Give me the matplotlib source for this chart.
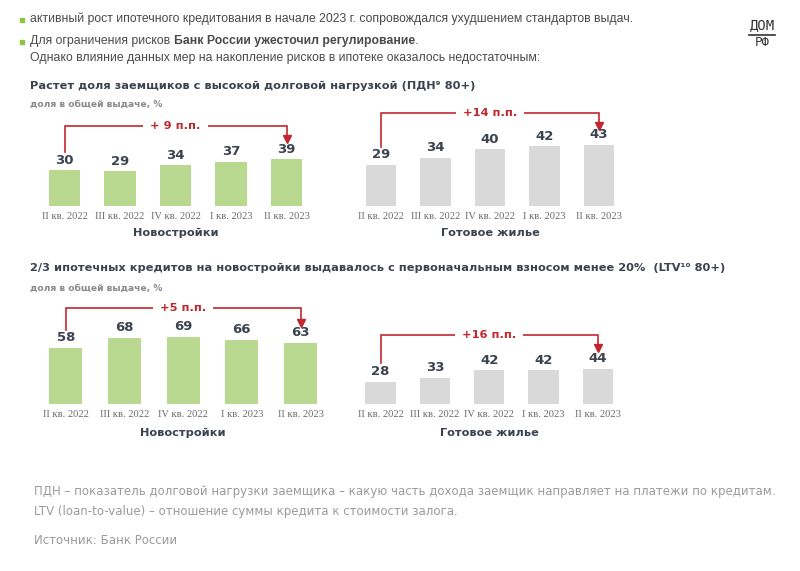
import matplotlib.pyplot as plt

W, H = 800, 571

quarters = ["II кв. 2022", "III кв. 2022", "IV кв. 2022", "I кв. 2023", "II кв. 2023"]

pdn_new = [30, 29, 34, 37, 39]
pdn_ready = [29, 34, 40, 42, 43]
ltv_new = [58, 68, 69, 66, 63]
ltv_ready = [28, 33, 42, 42, 44]

pdn_new_delta = "+ 9 п.п."
pdn_ready_delta = "+14 п.п."
ltv_new_delta = "+5 п.п."
ltv_ready_delta = "+16 п.п."

GREEN = "#b8d98f"
GREY = "#d9d9d9"
RED = "#c1272d"
DARK = "#3b4250"
TICK = "#6b6b6b"

fig = plt.figure(figsize=(W / 100, H / 100), dpi=100)
fig.patch.set_facecolor("white")


def fx(px):
    return px / W


def fy(py):
    return 1 - py / H


def make_ax(left, right, top, bottom):
    return fig.add_axes([fx(left), fy(bottom), fx(right - left), (bottom - top) / H])


def draw_panel(ax, values, color, ymax, caption, delta, y_line, y_start, y_tip, text_x):
    x = list(range(len(values)))
    ax.bar(x, values, width=0.56, color=color)
    ax.set_xlim(-0.5, len(values) - 0.5)
    ax.set_ylim(0, ymax)
    for s in ax.spines.values():
        s.set_visible(False)
    ax.set_yticks([])
    ax.set_xticks(x)
    ax.set_xticklabels(quarters, family="Liberation Serif", fontsize=7.6, color=TICK)
    ax.tick_params(axis="x", length=0, pad=4)
    for xi, v in zip(x, values):
        ax.annotate(str(v), (xi, v), xytext=(0, 2.5), textcoords="offset points",
                    ha="center", va="bottom", fontsize=9.5, weight="bold", color=DARK)
    ax.text(0.5, -0.28, caption, transform=ax.transAxes, ha="center", va="center",
            fontsize=8.2, weight="bold", color=DARK)

    # bracket: pixel rows -> data units
    bbox = ax.get_position()
    ax_top = (1 - bbox.y1) * H
    ax_h = bbox.height * H

    def to_data(py):
        return (ax_top + ax_h - py) / ax_h * ymax

    yl = to_data(y_line)
    last = len(values) - 1
    ax.plot([0, 0, last, last], [to_data(y_start), yl, yl, to_data(y_tip)],
            color=RED, lw=1.2, clip_on=False, solid_joinstyle="miter")
    ax.plot([last], [to_data(y_tip)], marker="v", color=RED,
            markersize=5.5, clip_on=False)
    ax.text(text_x, yl, delta, ha="center", va="center", fontsize=8.2, weight="bold",
            color=RED, clip_on=False,
            bbox=dict(facecolor="white", edgecolor="none", pad=5))


ax1 = make_ax(36.75, 314.25, 110, 206)
draw_panel(ax1, pdn_new, GREEN, 80, "Новостройки", pdn_new_delta, 126, 152, 139, 2.0)

ax2 = make_ax(353.75, 626.25, 110, 206)
draw_panel(ax2, pdn_ready, GREY, 67.6, "Готовое жилье", pdn_ready_delta, 113, 147, 126, 2.0)

ax3 = make_ax(36.4, 329.9, 300, 404)
draw_panel(ax3, ltv_new, GREEN, 107, "Новостройки", ltv_new_delta, 308, 330, 323, 2.0)

ax4 = make_ax(353.5, 625.0, 300, 404)
draw_panel(ax4, ltv_ready, GREY, 130, "Готовое жилье", ltv_ready_delta, 335, 363, 348, 2.0)

# header bullets
renderer = fig.canvas.get_renderer()


def rich(px, py, parts, **kw):
    x = fx(px)
    for s, weight in parts:
        t = fig.text(x, fy(py), s, weight=weight, va="center", **kw)
        x += t.get_window_extent(renderer).width / W


head_kw = dict(fontsize=8.8, color="#4a4a4a", family="Liberation Sans")
for by in (22, 44):
    fig.patches.append(plt.Rectangle((fx(20), fy(by)), fx(4), 4 / H, color="#8cc63f",
                                     transform=fig.transFigure, figure=fig))
rich(30, 19, [("активный рост ипотечного кредитования в начале 2023 г. сопровождался "
               "ухудшением стандартов выдач.", "normal")], **head_kw)
rich(30, 41, [("Для ограничения рисков ", "normal"),
              ("Банк России ужесточил регулирование", "bold"),
              (".", "normal")], **head_kw)
rich(30, 58, [("Однако влияние данных мер на накопление рисков в ипотеке оказалось "
               "недостаточным:", "normal")], **head_kw)

# logo
fig.text(fx(762), fy(25), "ДОМ", ha="center", va="center", fontsize=10,
         color="#333333", family="DejaVu Sans Mono")
fig.add_artist(plt.Line2D([fx(749), fx(775)], [fy(35), fy(35)], color="#333333", lw=1.2))
fig.text(fx(762), fy(43), "РФ", ha="center", va="center", fontsize=9,
         color="#333333", family="DejaVu Sans Mono")

# section titles
title_kw = dict(fontsize=8.2, weight="bold", color=DARK, va="center")
sub_kw = dict(fontsize=6.6, weight="bold", color="#8a8a8a", va="center")
fig.text(fx(30), fy(86), "Растет доля заемщиков с высокой долговой нагрузкой (ПДН⁹ 80+)",
         **title_kw)
fig.text(fx(30), fy(104), "доля в общей выдаче, %", **sub_kw)
fig.text(fx(30), fy(268),
         "2/3 ипотечных кредитов на новостройки выдавалось с первоначальным взносом "
         "менее 20%  (LTV¹⁰ 80+)", **title_kw)
fig.text(fx(30), fy(288), "доля в общей выдаче, %", **sub_kw)

# footnotes
foot_kw = dict(fontsize=8.45, color="#9b9b9b", va="center")
fig.text(fx(34), fy(492), "ПДН – показатель долговой нагрузки заемщика – какую часть дохода "
         "заемщик направляет на платежи по кредитам.", **foot_kw)
fig.text(fx(34), fy(512), "LTV (loan-to-value) – отношение суммы кредита к стоимости залога.",
         **foot_kw)
fig.text(fx(34), fy(540), "Источник: Банк России", **foot_kw)

fig.savefig("out.png", dpi=100)
